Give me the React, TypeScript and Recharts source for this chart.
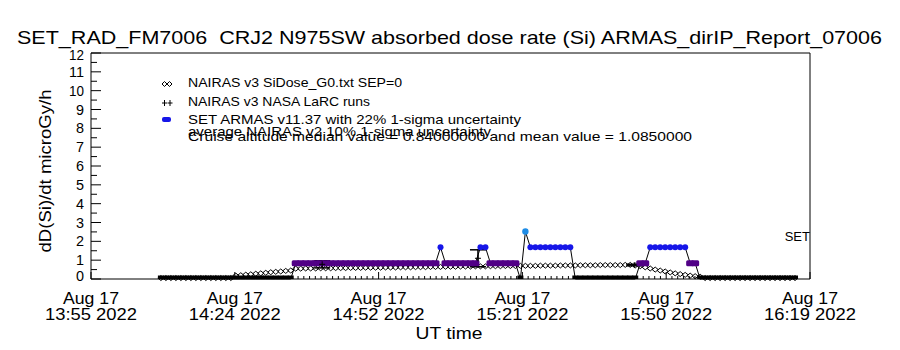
import React from 'react';
import { ComposedChart, Line, ErrorBar, XAxis, YAxis } from 'recharts';

// time axis is in minutes after 13:55 UT, samples every minute
const sampleStart = 14;
const sampleStep = 1;

// SET ARMAS v11.37 dose rate (quantised 0.84 steps)
const armasDose = [
  0, 0, 0, 0, 0, 0, 0, 0, 0, 0, 0, 0, 0, 0, 0, 0, 0, 0, 0, 0, 0, 0, 0, 0, 0, 0, 0,
  0.84, 0.84, 0.84, 0.84, 0.84, 0.84, 0.84, 0.84, 0.84, 0.84,
  0.84, 0.84, 0.84, 0.84, 0.84, 0.84, 0.84, 0.84, 0.84, 0.84,
  0.84, 0.84, 0.84, 0.84, 0.84, 0.84, 0.84, 0.84, 0.84,
  1.68,
  0.84, 0.84, 0.84, 0.84, 0.84, 0.84, 0.84,
  1.68, 1.68,
  0.84, 0.84, 0.84, 0.84, 0.84, 0.84,
  0,
  2.52,
  1.68, 1.68, 1.68, 1.68, 1.68, 1.68, 1.68, 1.68, 1.68,
  0, 0, 0, 0, 0, 0, 0, 0, 0, 0, 0, 0, 0,
  0.84, 0.84,
  1.68, 1.68, 1.68, 1.68, 1.68, 1.68, 1.68, 1.68,
  0.84, 0.84,
  0, 0, 0, 0, 0, 0, 0, 0, 0, 0, 0, 0, 0, 0, 0, 0, 0, 0, 0, 0,
];

// NAIRAS v3 SiDose_G0 model
const nairasDose = [
  0.05, 0.05, 0.05, 0.05, 0.05, 0.05, 0.05, 0.05, 0.05, 0.05, 0.05, 0.05, 0.05, 0.05, 0.05,
  0.18, 0.2, 0.23, 0.25, 0.28, 0.3, 0.33, 0.36, 0.38, 0.4, 0.43, 0.45,
  0.55, 0.55, 0.56, 0.56, 0.56, 0.57, 0.57, 0.57, 0.58, 0.58,
  0.58, 0.59, 0.59, 0.59, 0.6, 0.6, 0.6, 0.6, 0.61, 0.61,
  0.61, 0.62, 0.62, 0.62, 0.63, 0.63, 0.63, 0.64, 0.64, 0.64,
  0.65, 0.65, 0.65, 0.66, 0.66, 0.66, 0.67, 0.67, 0.67, 0.68,
  0.68, 0.68, 0.69, 0.69, 0.69, 0.7, 0.7, 0.7, 0.7, 0.71,
  0.71, 0.71, 0.71, 0.72, 0.72, 0.72, 0.72, 0.73, 0.73, 0.73,
  0.73, 0.74, 0.74, 0.74, 0.74, 0.74, 0.75, 0.75,
  0.72, 0.68, 0.62, 0.56, 0.5, 0.45, 0.4, 0.35, 0.3, 0.26, 0.22, 0.18, 0.15, 0.12,
  0.05, 0.05, 0.05, 0.05, 0.05, 0.05, 0.05, 0.05, 0.05, 0.05, 0.05, 0.05, 0.05, 0.05, 0.05, 0.05, 0.05, 0.05, 0.05,
];

// NAIRAS v3 NASA LaRC runs
const larcTime = [46.3, 77.5, 108.8];
const larcDose = [0.78, 1.1, 0.74];
const larcSigma = [0.19, 0.45, 0.04];

const dateLabel = 'Aug 17';
const timeLabels = ['13:55 2022', '14:24 2022', '14:52 2022', '15:21 2022', '15:50 2022', '16:19 2022'];
const yLabels = [0, 1, 2, 3, 4, 5, 6, 7, 8, 9, 10, 11, 12];

const PURPLE = '#510086';
const BLUE = '#1616E8';
const LIGHTBLUE = '#1E8CE6';
const FONT = '"Liberation Sans", "DejaVu Sans", sans-serif';

const L = 91;
const R = 810;
const T = 53;
const B = 279;
const SPAN = 144;
const MAJOR = 28.8;

const armasData = armasDose.map((v, i) => ({ t: sampleStart + i * sampleStep, v }));
const nairasData = nairasDose.map((v, i) => ({ t: sampleStart + i * sampleStep, v }));
const larcData = larcTime.map((t, i) => ({ t, v: larcDose[i], err: larcSigma[i] }));

const majorTicks = timeLabels.map((_, i) => +(i * MAJOR).toFixed(3));
const minorBottom: number[] = [];
for (let k = 0; k <= 125; k++) {
  const t = +(k * (MAJOR / 25)).toFixed(3);
  if (k % 25 !== 0 && t >= 14 && t <= 141) minorBottom.push(t);
}
const bottomTicks = [...majorTicks, ...minorBottom];
const topTicks: number[] = [];
for (let k = 0; k <= 20; k++) topTicks.push(+(k * 7.2).toFixed(3));
const yTicks: number[] = [];
for (let k = 0; k <= 24; k++) yTicks.push(k / 2);

const isMajor = (v: number) => majorTicks.findIndex((m) => Math.abs(m - v) < 1e-6);

function BottomTick(p: any) {
  const { x, payload } = p;
  const mi = isMajor(payload.value);
  if (mi < 0) return <line x1={x} x2={x} y1={B} y2={B - 3} stroke="#000" />;
  return (
    <g>
      <line x1={x} x2={x} y1={B} y2={B - 7} stroke="#000" />
      <text x={x} y={304} textAnchor="middle" fontSize={16} fontFamily={FONT} fill="#000"
        textLength={56} lengthAdjust="spacingAndGlyphs">{dateLabel}</text>
      <text x={x} y={320} textAnchor="middle" fontSize={16} fontFamily={FONT} fill="#000"
        textLength={92} lengthAdjust="spacingAndGlyphs">{timeLabels[mi]}</text>
    </g>
  );
}

function TopTick(p: any) {
  const { x } = p;
  return <line x1={x} x2={x} y1={T} y2={T + 5} stroke="#000" />;
}

function LeftTick(p: any) {
  const { y, payload } = p;
  const v = payload.value;
  const isInt = Number.isInteger(v);
  let ly = y + 5;
  if (v === 12) ly = 60;
  if (v === 0) ly = 281;
  return (
    <g>
      <line x1={L} x2={L + (isInt ? 10 : 6)} y1={y} y2={y} stroke="#000" />
      {isInt && yLabels.includes(v) && (
        <text x={84} y={ly} textAnchor="end" fontSize={15} fontFamily={FONT} fill="#000"
          textLength={v >= 10 ? 15 : 8} lengthAdjust="spacingAndGlyphs">{v}</text>
      )}
    </g>
  );
}

function RightTick(p: any) {
  const { y, payload } = p;
  const isInt = Number.isInteger(payload.value);
  return <line x1={R} x2={R - (isInt ? 13 : 6)} y1={y} y2={y} stroke="#000" />;
}

function armasDot(p: any) {
  const { cx, cy, payload, index } = p;
  const k = `a${index}`;
  if (cx == null || cy == null) return <g key={k} />;
  const v = payload.v;
  if (v === 0) return <rect key={k} x={cx - 3} y={cy - 3.5} width={6} height={3.5} fill="#000" />;
  if (v < 1) return <rect key={k} x={cx - 4} y={cy - 3} width={8} height={6} rx={1.5} fill={PURPLE} />;
  if (v < 2) return <circle key={k} cx={cx} cy={cy} r={3} fill={BLUE} />;
  return <circle key={k} cx={cx} cy={cy} r={3.2} fill={LIGHTBLUE} />;
}

function diamondDot(p: any) {
  const { cx, cy, index } = p;
  const k = `n${index}`;
  if (cx == null || cy == null) return <g key={k} />;
  return (
    <polygon key={k} points={`${cx - 3},${cy} ${cx},${cy - 2.5} ${cx + 3},${cy} ${cx},${cy + 2.5}`}
      fill="none" stroke="#000" strokeWidth={1} />
  );
}

function plusDot(p: any) {
  const { cx, cy, index } = p;
  const k = `p${index}`;
  if (cx == null || cy == null) return <g key={k} />;
  return (
    <g key={k}>
      <line x1={cx - 3} x2={cx + 3} y1={cy} y2={cy} stroke="#000" />
      <line x1={cx} x2={cx} y1={cy - 3} y2={cy + 3} stroke="#000" />
    </g>
  );
}

const legendRows = [
  'NAIRAS v3 SiDose_G0.txt SEP=0',
  'NAIRAS v3 NASA LaRC runs',
  'SET ARMAS v11.37 with 22% 1-sigma uncertainty',
  'average NAIRAS v2 10% 1-sigma uncertainty',
  'Cruise altitude median value = 0.84000000 and mean value = 1.0850000',
];
const legendY = [86.5, 106, 124, 135.5, 140.5];
const legendW = [214, 182, 333, 303, 504];

// axis band sizes; the plot box is kept at L..R, T..B
const LEFT_W = 40;
const RIGHT_W = 10;
const TOP_H = 10;
const BOTTOM_H = 40;

export default function App() {
  return (
    <div style={{ position: 'absolute', left: 0, top: 0, width: 900, height: 350, background: '#fff' }}>
      <ComposedChart width={900} height={350}
        margin={{ top: T - TOP_H, right: 900 - R - RIGHT_W, bottom: 350 - B - BOTTOM_H, left: L - LEFT_W }}>
        <XAxis xAxisId="b" type="number" dataKey="t" domain={[0, SPAN]} ticks={bottomTicks} interval={0}
          height={BOTTOM_H} tickLine={false} axisLine={{ stroke: '#000' }} tick={BottomTick} />
        <XAxis xAxisId="top" orientation="top" type="number" dataKey="t" domain={[0, SPAN]} ticks={topTicks}
          interval={0} height={TOP_H} tickLine={false} axisLine={{ stroke: '#000' }} tick={TopTick} />
        <YAxis yAxisId="l" type="number" domain={[0, 12]} ticks={yTicks} interval={0} width={LEFT_W}
          tickLine={false} axisLine={{ stroke: '#000' }} tick={LeftTick} />
        <YAxis yAxisId="r" orientation="right" type="number" domain={[0, 12]} ticks={yTicks} interval={0}
          width={RIGHT_W} tickLine={false} axisLine={{ stroke: '#000' }} tick={RightTick} />
        <Line xAxisId="b" yAxisId="l" data={nairasData} dataKey="v" type="linear" stroke="none"
          dot={diamondDot} activeDot={false} isAnimationActive={false} />
        <Line xAxisId="b" yAxisId="l" data={armasData} dataKey="v" type="linear" stroke="#000"
          strokeWidth={1} dot={armasDot} activeDot={false} isAnimationActive={false} />
        <Line xAxisId="b" yAxisId="l" data={larcData} dataKey="v" type="linear" stroke="none"
          dot={plusDot} activeDot={false} isAnimationActive={false}>
          <ErrorBar dataKey="err" width={8} stroke="#000" strokeWidth={1.5} direction="y" />
        </Line>
      </ComposedChart>
      <svg width={900} height={350} style={{ position: 'absolute', left: 0, top: 0, pointerEvents: 'none' }}>
        <text x={17} y={44} fontSize={19} fontFamily={FONT} fill="#000" textLength={865}
          lengthAdjust="spacingAndGlyphs" style={{ whiteSpace: 'pre' }}>
          {'SET_RAD_FM7006  CRJ2 N975SW absorbed dose rate (Si) ARMAS_dirIP_Report_07006'}
        </text>
        <text x={51} y={171} fontSize={16} fontFamily={FONT} fill="#000" textAnchor="middle"
          textLength={163} lengthAdjust="spacingAndGlyphs" transform="rotate(-90 51 171)">
          dD(Si)/dt microGy/h
        </text>
        <text x={449} y={339} fontSize={16} fontFamily={FONT} fill="#000" textAnchor="middle"
          textLength={67} lengthAdjust="spacingAndGlyphs">UT time</text>
        <text x={810} y={241} fontSize={13} fontFamily={FONT} fill="#000" textAnchor="end">SET</text>
        {legendRows.map((s, i) => (
          <text key={s} x={188} y={legendY[i]} fontSize={13} fontFamily={FONT} fill="#000"
            textLength={legendW[i]} lengthAdjust="spacingAndGlyphs">{s}</text>
        ))}
        <polygon points="162,84 164.5,81.5 167,84 164.5,86.5" fill="none" stroke="#000" />
        <polygon points="167,84 169.5,81.5 172,84 169.5,86.5" fill="none" stroke="#000" />
        <line x1={162} x2={167} y1={103} y2={103} stroke="#000" />
        <line x1={164.5} x2={164.5} y1={100} y2={106} stroke="#000" />
        <line x1={167.5} x2={172.5} y1={103} y2={103} stroke="#000" />
        <line x1={170} x2={170} y1={100} y2={106} stroke="#000" />
        <rect x={162} y={117} width={9} height={5} rx={2} fill={BLUE} />
      </svg>
    </div>
  );
}
